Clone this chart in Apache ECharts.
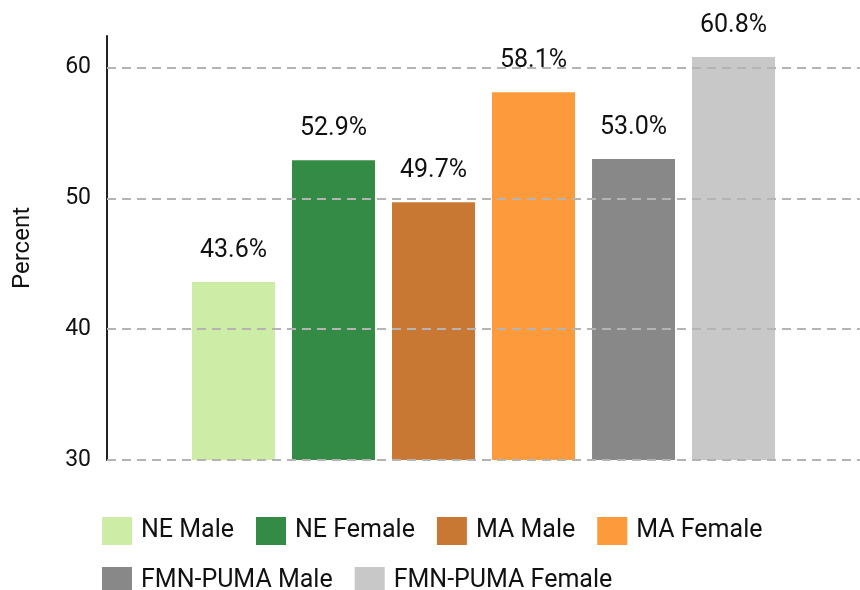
<html>
<head>
    <meta charset="utf-8" />
    <title>ECharts</title>
    <script src="https://cdn.jsdelivr.net/npm/echarts@6/dist/echarts.min.js"></script>
    <style>
        html, body { margin: 0; padding: 0; background: #fff; }
        #chart { width: 860px; height: 590px; }
    </style>
</head>
<body>
<div id="chart"></div>
<script>
    const groups = ['NE Male', 'NE Female', 'MA Male', 'MA Female', 'FMN-PUMA Male', 'FMN-PUMA Female'];
    const values = [43.6, 52.9, 49.7, 58.1, 53.0, 60.8];
    const colors = ['#cdeda6', '#348b45', '#c97834', '#fd9b3c', '#888888', '#c8c8c8'];
    const yTicks = [30, 40, 50, 60];

    const font = 'Roboto, sans-serif';
    let chart = echarts.init(document.getElementById('chart'));

    let series = groups.map((g, i) => ({
        name: g,
        type: 'bar',
        z: 3,
        data: [values[i]],
        barWidth: 83,
        barGap: '20.5%',
        itemStyle: { color: colors[i] },
        label: {
            show: true,
            position: 'top',
            distance: 19,
            fontSize: 25,
            color: '#111',
            fontFamily: font,
            formatter: p => p.value.toFixed(1) + '%'
        }
    }));

    // grid lines as markLines behind the bars, so none is drawn at the axis max
    series.push({
        name: 'grid',
        type: 'line',
        z: 1,
        data: [],
        markLine: {
            silent: true,
            symbol: 'none',
            label: { show: false },
            lineStyle: { color: '#b4b4b4', type: [9, 6], width: 2 },
            data: yTicks.map(v => ({ yAxis: v }))
        }
    });

    chart.setOption({
        animation: false,
        textStyle: { fontFamily: font },
        grid: { left: 107, right: 0, top: 36, bottom: 130, outerBoundsMode: 'none' },
        legend: {
            left: 97,
            top: 512,
            width: 700,
            itemWidth: 30,
            itemHeight: 28,
            itemGap: 22,
            icon: 'rect',
            textStyle: { fontSize: 25, color: '#111', fontFamily: font, padding: [0, 0, 0, 4] },
            data: groups
        },
        xAxis: {
            type: 'category',
            data: [''],
            axisLine: { show: false },
            axisTick: { show: false },
            axisLabel: { show: false }
        },
        yAxis: {
            type: 'value',
            min: 30,
            max: 62.4,
            interval: 10,
            name: 'Percent',
            nameLocation: 'middle',
            nameGap: 72,
            nameTextStyle: { fontSize: 24, color: '#111', fontFamily: font },
            axisLine: { show: true, lineStyle: { color: '#222', width: 2 } },
            axisTick: { show: false },
            axisLabel: {
                fontSize: 23, color: '#111', margin: 16, fontFamily: font,
                showMaxLabel: false,
                formatter: v => yTicks.includes(v) ? String(v) : ''
            },
            splitLine: { show: false }
        },
        series: series
    });
</script>
</body>
</html>
